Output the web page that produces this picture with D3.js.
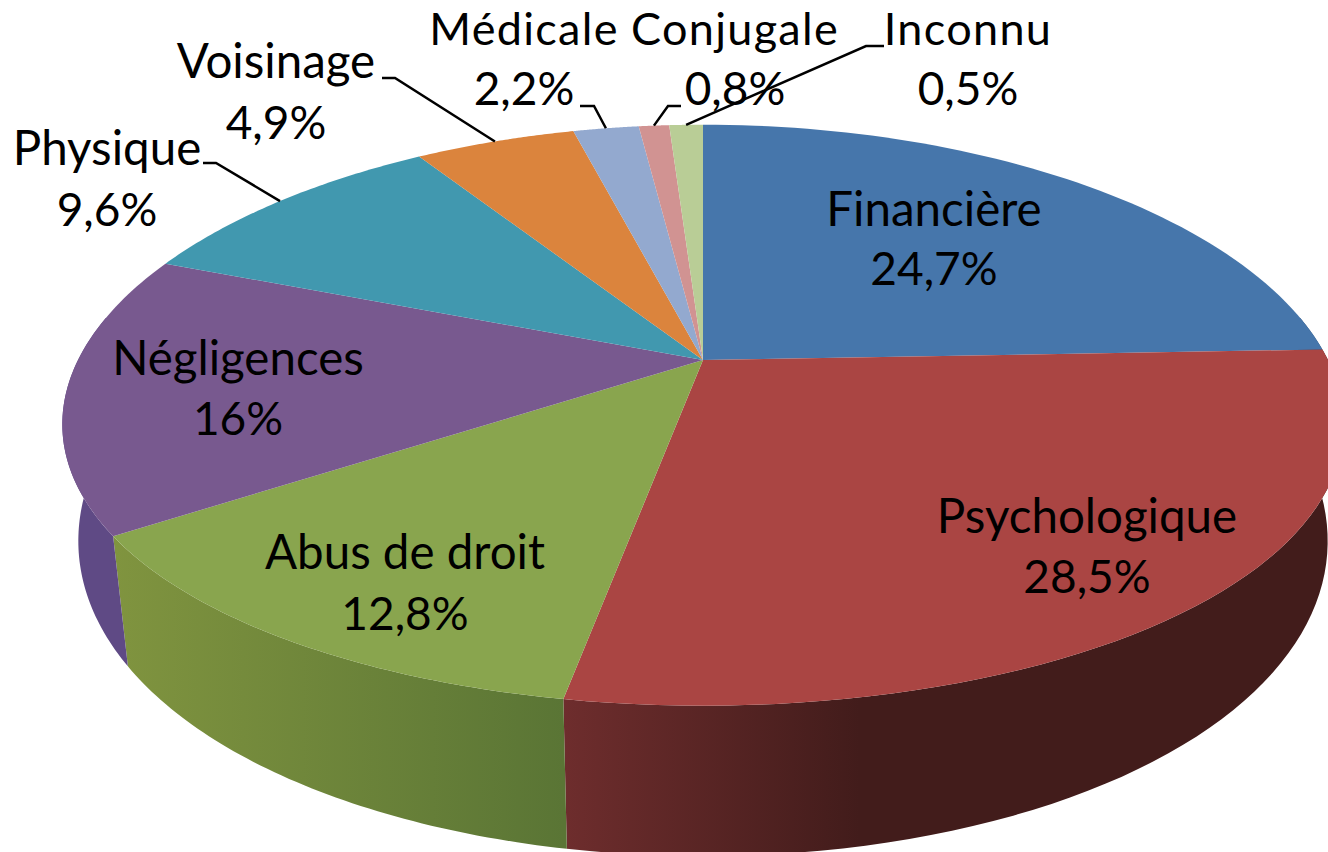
<!DOCTYPE html>
<html>
<head>
<meta charset="utf-8">
<script src="https://cdn.jsdelivr.net/npm/d3@7"></script>
<style>
  html, body { margin: 0; padding: 0; background: #fff; overflow: hidden; }
  text { font-family: Lato, "Open Sans", sans-serif; fill: #000; text-anchor: middle; }
</style>
</head>
<body>
<div id="chart"></div>
<script>
const categories = ['Financière', 'Psychologique', 'Abus de droit', 'Négligences', 'Physique', 'Voisinage', 'Médicale', 'Conjugale', 'Inconnu'];
const percentLabels = ['24,7%', '28,5%', '12,8%', '16%', '9,6%', '4,9%', '2,2%', '0,8%', '0,5%'];
// slice sizes as drawn in the picture, the printed labels do not quite match them
const sliceShares = [24.4, 28.4, 12.7, 15.5, 9.95, 5.0, 2.05, 0.95, 1.05];
const topColors = ['#4676ab', '#aa4543', '#89a54e', '#78598f', '#4198af', '#db843d', '#93a9cf', '#d19392', '#b9cd96'];
const wallStart = ['#2e4d72', '#6e2d2d', '#80943f', '#5f4a85', '#2b6473', '#915727', '#62708a', '#8a6160', '#7b8863'];
const wallEnd = ['#2e4d72', '#421c1b', '#5a7535', '#5f4a85', '#2b6473', '#915727', '#62708a', '#8a6160', '#7b8863'];

const width = 1328, height = 852;
const cx = 703, cy = 360;       // pie apex
const radiusX = 625, k = 280, p = 0.19, px = 0.22;
const nameSize = 47.5, topRowSize = 45, percentSize = 46;

// label layout: [x, first baseline, second baseline]
const labelPos = [
    [934, 226, 285], [1087, 533, 593], [405, 569, 630],
    [238, 375, 435], [107, 165, 226], [276, 78, 139],
    [524, 45, 105], [735, 45, 105], [968, 45, 105]
];
// leader lines start next to the text, then elbow, then run to the rim
const leaders = {
    4: [[203, 163], [216, 163]],
    5: [[382, 78], [395, 78]],
    6: [[580, 106], [594, 106]],
    7: [[681, 106], [668, 106]],
    8: [[884, 46], [866, 46]]
};

// rim of the top face, angle 0 is up, clockwise
const rim = a => {
    const v = Math.cos(a);
    return [cx + radiusX * Math.sin(a) / (1 + px * v), cy - k * v / (1 + p * v)];
};
// same rim point on the lower edge of the wall
const lowerRim = a => {
    const [x, y] = rim(a);
    return [cx + (x - cx) * 0.975, y + 109 + 0.12 * (y - cy)];
};
const arcAngles = (a0, a1) => d3.range(0, 61).map(i => a0 + (a1 - a0) * i / 60);

const pie = d3.pie().sort(null).value(d => d);
const slices = pie(sliceShares);
const line = d3.line();

const svg = d3.select('#chart')
    .append('svg')
    .attr('width', width)
    .attr('height', height);

const defs = svg.append('defs');
const wallFrom = Math.PI * 0.45, wallTo = Math.PI * 1.55;

slices.forEach((s, i) => {
    const a0 = Math.max(s.startAngle, wallFrom), a1 = Math.min(s.endAngle, wallTo);
    if (a1 <= a0) return;
    const xs = arcAngles(a0, a1).map(a => rim(a)[0]);
    const g = defs.append('linearGradient')
        .attr('id', `wall-${i}`)
        .attr('gradientUnits', 'userSpaceOnUse')
        .attr('x1', d3.min(xs)).attr('x2', d3.max(xs))
        .attr('y1', 0).attr('y2', 0);
    // psychologique goes dark quickly, seen from the left end
    const left = wallStart[i], right = wallEnd[i];
    g.append('stop').attr('offset', 0).attr('stop-color', left);
    g.append('stop').attr('offset', i === 1 ? 0.38 : 1).attr('stop-color', right);
    if (i === 1) g.append('stop').attr('offset', 1).attr('stop-color', right);

    const upper = arcAngles(a0, a1).map(rim);
    const lower = arcAngles(a0, a1).reverse().map(lowerRim);
    svg.append('path')
        .attr('class', 'wall')
        .attr('d', line(upper.concat(lower)) + 'Z')
        .attr('fill', `url(#wall-${i})`);
});

svg.selectAll('path.top')
    .data(slices)
    .enter()
    .append('path')
    .attr('class', 'top')
    .attr('d', d => line([[cx, cy]].concat(arcAngles(d.startAngle, d.endAngle).map(rim))) + 'Z')
    .attr('fill', (d, i) => topColors[i]);

Object.keys(leaders).forEach(key => {
    const s = slices[key];
    const end = rim((s.startAngle + s.endAngle) / 2);
    svg.append('path')
        .attr('d', line(leaders[key].concat([end])))
        .attr('fill', 'none')
        .attr('stroke', '#000')
        .attr('stroke-width', 2.5);
});

categories.forEach((name, i) => {
    const [x, y1, y2] = labelPos[i];
    const topRow = i >= 6;      // these three sit against the top edge
    svg.append('text')
        .attr('x', x)
        .attr('y', y1)
        .attr('font-size', topRow ? topRowSize : nameSize)
        .attr('letter-spacing', topRow ? 1.3 : 0)
        .text(name);
    svg.append('text').attr('x', x).attr('y', y2).attr('font-size', percentSize).text(percentLabels[i]);
});
</script>
</body>
</html>
